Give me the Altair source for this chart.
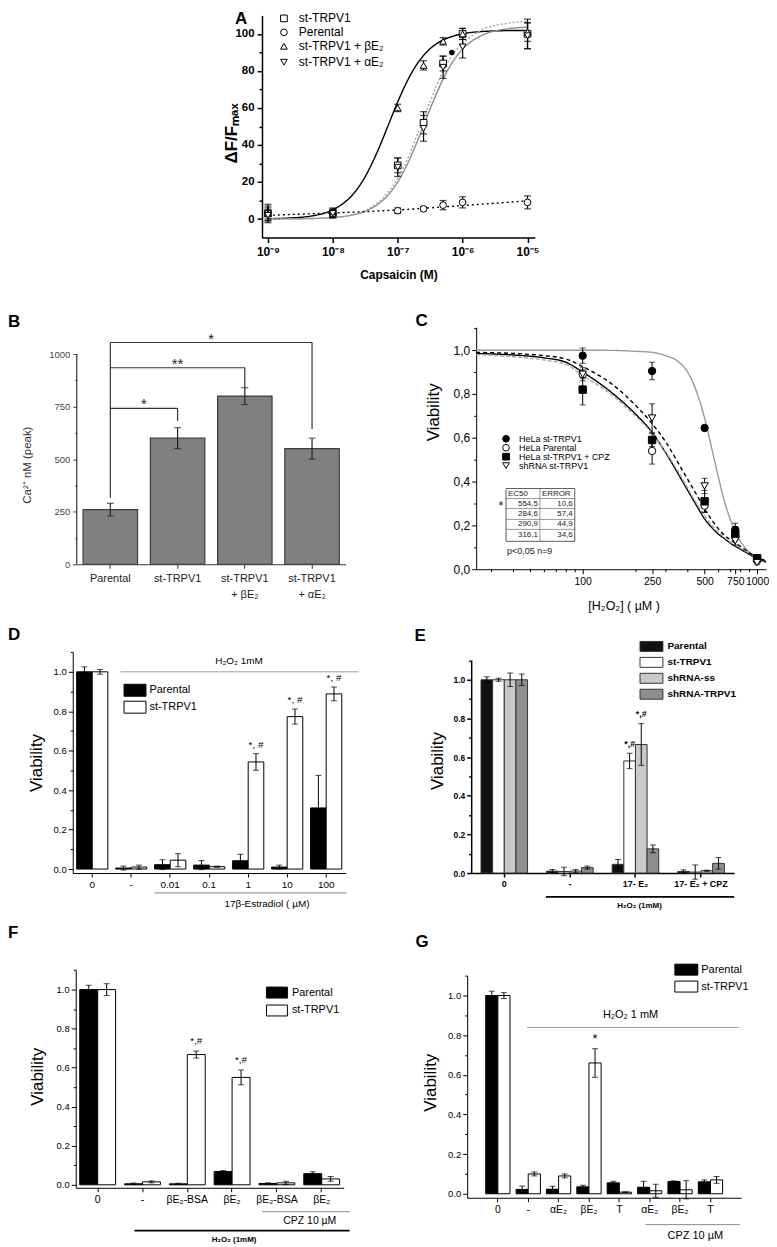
import json
import altair as alt
import pandas as pd

FONT = "Liberation Sans"
ONE = pd.DataFrame({"k": [0]})

# ======================= DATA =======================
# ---- Panel A : capsaicin dose response ----
A_conc = [1e-9, 1e-8, 1e-7, 2.5e-7, 5e-7, 1e-6, 1e-5]
A_series = ["st-TRPV1", "Perental", "st-TRPV1 + βE₂", "st-TRPV1 + αE₂"]
A_st = [3, 3, 29, 52, 84, 100, 100]
A_st_err = [4, 2.5, 4, 6, 4, 3, 8]
A_par = [3, 3, 4.5, 5.5, 7.5, 9, 9]
A_par_err = [5, 2, 1.5, 1, 2.5, 3, 3.5]
A_beta = [3, 4, 60, 83, 96, 100, 101]
A_beta_err = [3, 2, 2, 2.5, 2, 3, 5]
A_alpha = [2, 3, 28, 49, 82, 93, 99]
A_alpha_err = [3, 2, 5, 7, 6, 6, 7]
A_extra_conc = [6.8e-7]
A_extra_val = [90]
A_curve_conc = [1e-9, 2e-9, 5e-9, 1e-8, 2e-8, 3e-8, 5e-8, 7e-8, 1e-7, 1.5e-7,
                2e-7, 3e-7, 5e-7, 7e-7, 1e-6, 2e-6, 5e-6, 1e-5]
A_curve_beta = [0.2, 0.5, 1.8, 5.0, 13.0, 21.6, 37.4, 49.9, 63.3, 76.5,
                83.9, 91.3, 96.7, 98.7, 100.1, 101.3, 101.8, 101.9]
A_curve_st = [0.0, 0.1, 0.3, 0.8, 2.2, 3.9, 8.1, 12.7, 20.0, 31.7,
              41.9, 57.6, 75.6, 84.8, 91.8, 99.3, 102.8, 103.6]
A_curve_alpha = [0.0, 0.1, 0.3, 0.8, 2.3, 4.2, 9.0, 14.2, 22.0, 34.5,
                 45.5, 61.5, 80.0, 88.8, 94.8, 102.3, 105.8, 106.8]
A_par_line_conc = [1e-9, 1e-8, 1e-7, 1e-6, 1e-5]
A_par_line = [2.0, 3.3, 4.9, 7.3, 9.8]
A_xticks = [1e-9, 1e-8, 1e-7, 1e-6, 1e-5]
A_xtick_labels = ["10⁻⁹", "10⁻⁸", "10⁻⁷", "10⁻⁶", "10⁻⁵"]
A_shapes = ["square", "circle", "triangle-up", "triangle-down"]

# ---- Panel B : Ca2+ peak ----
B_cats = ["Parental", "st-TRPV1", "st-TRPV1 + βE₂", "st-TRPV1 + αE₂"]
B_vals = [260, 600, 800, 550]
B_err = [30, 50, 40, 50]
B_sig_target = [1, 2, 3]
B_sig_height = [742, 935, 1055]
B_sig_leg = [682, 840, 643]
B_sig_label = ["*", "**", "*"]
B_left_leg = [316, 1055]

# ---- Panel C : H2O2 viability curves ----
C_series = ["HeLa st-TRPV1", "HeLa Parental", "HeLa st-TRPV1 + CPZ", "shRNA st-TRPV1"]
C_shapes = ["circle", "circle", "square", "triangle-down"]
C_fills = ["black", "white", "black", "white"]
C_conc = [100, 250, 500, 750, 1000]
C_vals = [
    [0.975, 0.905, 0.645, 0.18, 0.05],
    [0.89, 0.54, 0.29, 0.15, 0.04],
    [0.82, 0.59, 0.31, 0.16, 0.05],
    [0.89, 0.69, 0.38, 0.13, 0.03],
]
C_errs = [
    [0.035, 0.04, 0.0, 0.03, 0.01],
    [0.02, 0.06, 0.03, 0.02, 0.01],
    [0.07, 0.03, 0.05, 0.02, 0.01],
    [0.03, 0.065, 0.035, 0.02, 0.01],
]
C_curve_conc = [24.5, 40, 60, 80, 100, 150, 200, 250, 300, 350, 400, 450, 500,
                550, 600, 650, 700, 750, 850, 1000, 1125]
C_curves = [
    [1.0, 1.0, 1.0, 1.0, 1.0, 0.999, 0.995, 0.99, 0.975, 0.95, 0.90, 0.81, 0.69,
     0.55, 0.42, 0.31, 0.23, 0.17, 0.10, 0.05, 0.03],
    [0.985, 0.978, 0.965, 0.945, 0.90, 0.80, 0.71, 0.625, 0.53, 0.44, 0.36, 0.29, 0.23,
     0.19, 0.16, 0.14, 0.12, 0.105, 0.08, 0.05, 0.035],
    [0.98, 0.97, 0.955, 0.935, 0.885, 0.79, 0.70, 0.62, 0.535, 0.45, 0.37, 0.30, 0.245,
     0.20, 0.17, 0.145, 0.125, 0.11, 0.085, 0.055, 0.038],
    [0.99, 0.985, 0.975, 0.96, 0.925, 0.84, 0.75, 0.665, 0.58, 0.49, 0.41, 0.34, 0.275,
     0.225, 0.185, 0.155, 0.135, 0.12, 0.09, 0.055, 0.038],
]
C_xticks = [30, 40, 50, 60, 70, 80, 90, 100, 200, 250, 300, 400, 500, 600, 700,
            750, 800, 900, 1000]
C_xlabels = [100, 250, 500, 750, 1000]
C_tab_ec50 = ["554,5", "284,6", "290,9", "316,1"]
C_tab_error = ["10,6", "57,4", "44,9", "34,6"]

# ---- Panel D : 17beta-estradiol dose ----
D_labels = ["0", "-", "0.01", "0.1", "1", "10", "100"]
D_series = ["Parental", "st-TRPV1"]
D_par = [1.0, 0.005, 0.022, 0.02, 0.042, 0.01, 0.31]
D_par_err = [0.025, 0.01, 0.025, 0.023, 0.033, 0.01, 0.165]
D_st = [1.0, 0.01, 0.045, 0.012, 0.543, 0.773, 0.888]
D_st_err = [0.012, 0.01, 0.033, 0.003, 0.042, 0.038, 0.035]
D_annot = [(4, "st-TRPV1", "*, #"), (5, "st-TRPV1", "*, #"), (6, "st-TRPV1", "*, #")]

# ---- Panel E : shRNA ----
E_labels = ["0", "-", "17- E₂", "17- E₂ + CPZ"]
E_series = ["Parental", "st-TRPV1", "shRNA-ss", "shRNA-TRPV1"]
E_par = [1.0, 0.01, 0.045, 0.008]
E_par_err = [0.015, 0.008, 0.025, 0.008]
E_st = [1.0, 0.008, 0.58, 0.005]
E_st_err = [0.008, 0.022, 0.04, 0.037]
E_ss = [1.0, 0.01, 0.665, 0.012]
E_ss_err = [0.035, 0.008, 0.108, 0.003]
E_sh = [1.0, 0.028, 0.125, 0.05]
E_sh_err = [0.03, 0.008, 0.02, 0.03]
E_annot = [(2, "st-TRPV1", "*,#"), (2, "shRNA-ss", "*,#")]

# ---- Panel F : BSA-conjugated estradiol ----
F_labels = ["0", "-", "βE₂-BSA", "βE₂", "βE₂-BSA", "βE₂"]
F_par = [1.0, 0.005, 0.005, 0.068, 0.007, 0.057]
F_par_err = [0.022, 0.004, 0.003, 0.005, 0.003, 0.01]
F_st = [1.0, 0.015, 0.667, 0.55, 0.01, 0.03]
F_st_err = [0.03, 0.005, 0.018, 0.038, 0.008, 0.012]
F_annot = [(2, "st-TRPV1", "*,#"), (3, "st-TRPV1", "*,#")]

# ---- Panel G : steroids ----
G_labels = ["0", "-", "αE₂", "βE₂", "T", "αE₂", "βE₂", "T"]
G_par = [1.0, 0.022, 0.023, 0.035, 0.055, 0.033, 0.062, 0.06]
G_par_err = [0.022, 0.017, 0.015, 0.008, 0.008, 0.03, 0.003, 0.01]
G_st = [1.0, 0.1, 0.09, 0.66, 0.008, 0.015, 0.02, 0.07]
G_st_err = [0.015, 0.01, 0.01, 0.072, 0.002, 0.033, 0.046, 0.017]
G_annot = [(3, "st-TRPV1", "*")]


# ======================= HELPERS =======================
def note(text, x, y, size=10, weight="normal", align="center", color="black", baseline="middle"):
    return alt.Chart(ONE).mark_text(
        text=text, font=FONT, fontSize=size, fontWeight=weight, align=align,
        baseline=baseline, color=color
    ).encode(x=alt.value(x), y=alt.value(y))


def hline(x1, x2, y, color="black", width=1.0):
    return alt.Chart(ONE).mark_rule(color=color, strokeWidth=width).encode(
        x=alt.value(x1), x2=alt.value(x2), y=alt.value(y))


def vline(x, y1, y2, color="black", width=1.0):
    return alt.Chart(ONE).mark_rule(color=color, strokeWidth=width).encode(
        x=alt.value(x), y=alt.value(y1), y2=alt.value(y2))


def letter(ch, x, y):
    return note(ch, x, y, size=17, weight="bold", align="left")


def manual_legend(names, shapes, fills, x_sym, x_lab, ys, size, fs):
    out = []
    for n, sh, f, yy in zip(names, shapes, fills, ys):
        out.append(alt.Chart(ONE).mark_point(shape=sh, filled=True, fill=f, stroke="black",
                                             strokeWidth=1, size=size, opacity=1).encode(
            x=alt.value(x_sym), y=alt.value(yy)))
        out.append(note(n, x_lab, yy, size=fs, align="left"))
    return out


def frac_axis(title, tx, ty, label_fs=9.5, bold=False, comma=False, dw=1.0, tfs=17):
    vals = [round(0.1 * i, 1) for i in range(12)]
    major = "round(datum.value * 10) % 2 == 0"
    fmt = "replace(format(datum.value, '.1f'), '.', ',')" if comma else "format(datum.value, '.1f')"
    return alt.Axis(
        values=vals, labelExpr=f"{major} ? {fmt} : ''",
        tickSize={"condition": {"test": f"!({major})", "value": 2.5}, "value": 4.5},
        labelFontSize=label_fs, labelFontWeight="bold" if bold else "normal",
        labelPadding=2, labelOverlap=False, domainWidth=dw, tickWidth=dw,
        title=title, titleFontSize=tfs, titleX=tx, titleY=ty,
        titleAlign="center", titleBaseline="middle")


def rect_legend(x, y, w, h, gap, fs, bold=False, stroke="black", row_pad=0):
    # symbol laid out as an h x h square, drawn as a w x h rectangle
    path = f"M-1,-1H{2 * w / h - 1:.3f}V1H-1Z"
    return alt.Legend(title=None, orient="none", legendX=x, legendY=y, symbolType=path,
                      symbolSize=h * h, symbolStrokeColor=stroke, symbolStrokeWidth=1,
                      labelFontSize=fs, labelFontWeight="bold" if bold else "normal",
                      labelFont=FONT, labelOffset=w - h + gap, rowPadding=row_pad, padding=0)


def bar_panel(labels, series, means, errs, fills, stroke, W, H, ydom, pi, po, yaxis,
              xlab_fs, xlab_bold, legend, annots, annot_fs, annot_bold, annot_dy,
              extras, cap=6, err_w=1.0, dw=1.0):
    keys = [str(i) for i in range(len(labels))]
    rows = []
    for s, ml, el in zip(series, means, errs):
        for k, m, e in zip(keys, ml, el):
            rows.append({"key": k, "series": s, "mean": m, "lo": m - e, "hi": m + e})
    df = pd.DataFrame(rows)
    yscale = alt.Scale(domain=ydom, nice=False, zero=False)
    label_expr = json.dumps(labels, ensure_ascii=False) + "[toNumber(datum.value)]"
    xaxis = alt.Axis(title=None, labelExpr=label_expr, labelAngle=0, labelFontSize=xlab_fs,
                     labelFontWeight="bold" if xlab_bold else "normal", tickSize=4,
                     labelPadding=3, labelOverlap=False, domainWidth=dw, tickWidth=dw)
    x = alt.X("key:N", sort=keys, scale=alt.Scale(paddingInner=pi, paddingOuter=po), axis=xaxis)
    xo = alt.XOffset("series:N", sort=series,
                     scale=alt.Scale(domain=series, paddingInner=0, paddingOuter=0))
    bars = alt.Chart(df).mark_bar(stroke=stroke, strokeWidth=1).encode(
        x=x, xOffset=xo, y=alt.Y("mean:Q", scale=yscale, axis=yaxis), y2=alt.datum(0),
        fill=alt.Fill("series:N", scale=alt.Scale(domain=series, range=fills), legend=legend))
    err = alt.Chart(df).mark_rule(color="black", strokeWidth=err_w).encode(
        x=x, xOffset=xo, y=alt.Y("lo:Q", scale=yscale, axis=yaxis), y2="hi:Q")
    cap_lo = alt.Chart(df).mark_tick(color="black", size=cap, thickness=err_w,
                                     orient="horizontal").encode(
        x=x, xOffset=xo, y=alt.Y("lo:Q", scale=yscale, axis=yaxis))
    cap_hi = alt.Chart(df).mark_tick(color="black", size=cap, thickness=err_w,
                                     orient="horizontal").encode(
        x=x, xOffset=xo, y=alt.Y("hi:Q", scale=yscale, axis=yaxis))
    layers = [bars, err, cap_lo, cap_hi]
    if annots:
        arows = []
        for ki, s, t in annots:
            si = series.index(s)
            arows.append({"key": str(ki), "series": s,
                          "ty": means[si][ki] + errs[si][ki] + annot_dy, "t": t})
        adf = pd.DataFrame(arows)
        layers.append(alt.Chart(adf).mark_text(
            font=FONT, fontSize=annot_fs, fontWeight="bold" if annot_bold else "normal",
            baseline="middle").encode(
            x=x, xOffset=xo, y=alt.Y("ty:Q", scale=yscale, axis=yaxis), text="t:N"))
    layers += extras
    return alt.layer(*layers).properties(width=W, height=H)


# ======================= PANEL A =======================
A_W, A_H = 274, 223
a_x = alt.Scale(type="log", domain=[8.1e-10, 1.3e-5], nice=False)
a_y = alt.Scale(domain=[-10, 110], nice=False, zero=False)
a_lab = "".join(f"datum.value < {t * 3:g} ? '{l}' : "
                for t, l in zip(A_xticks[:-1], A_xtick_labels[:-1])) + f"'{A_xtick_labels[-1]}'"
a_xaxis = alt.Axis(values=A_xticks, labelExpr=a_lab, labelFontWeight="bold", labelFontSize=12,
                   labelPadding=4, labelOverlap=False, labelFlush=False, tickSize=5,
                   tickWidth=1.5, domainWidth=1.5, title="Capsaicin (M)", titleFontSize=12,
                   titleFontWeight="bold", titleX=A_W / 2, titleY=37, titleAlign="center",
                   titleBaseline="middle")
a_yaxis = alt.Axis(values=list(range(0, 101, 10)),
                   labelExpr="datum.value % 20 == 0 ? datum.label : ''",
                   tickSize={"condition": {"test": "datum.value % 20 != 0", "value": 3}, "value": 5},
                   labelFontWeight="bold", labelFontSize=11.5, labelPadding=3, labelOverlap=False,
                   tickWidth=1.5, domainWidth=1.5, title="ΔF/Fₘₐₓ", titleFontSize=17,
                   titleFontWeight="bold", titleX=-31, titleY=118, titleAlign="center",
                   titleBaseline="middle")

A_curve_names = ["beta", "st", "alpha", "par"]
a_line_rows = []
for name, xs, ys in [("beta", A_curve_conc, A_curve_beta), ("st", A_curve_conc, A_curve_st),
                     ("alpha", A_curve_conc, A_curve_alpha), ("par", A_par_line_conc, A_par_line)]:
    for xv, yv in zip(xs, ys):
        a_line_rows.append({"conc": xv, "val": yv, "curve": name})
a_line_df = pd.DataFrame(a_line_rows)

a_pt_rows = []
for s, vals, errs in zip(A_series, [A_st, A_par, A_beta, A_alpha],
                         [A_st_err, A_par_err, A_beta_err, A_alpha_err]):
    for c, v, e in zip(A_conc, vals, errs):
        a_pt_rows.append({"conc": c, "val": v, "lo": v - e, "hi": v + e, "series": s})
a_pt_df = pd.DataFrame(a_pt_rows)

ax = alt.X("conc:Q", scale=a_x, axis=a_xaxis)
a_lines = alt.Chart(a_line_df).mark_line(strokeWidth=1.4, interpolate="monotone").encode(
    x=ax, y=alt.Y("val:Q", scale=a_y, axis=a_yaxis),
    color=alt.Color("curve:N", scale=alt.Scale(domain=A_curve_names,
                    range=["black", "#8c8c8c", "#a6a6a6", "black"]), legend=None),
    strokeDash=alt.StrokeDash("curve:N", scale=alt.Scale(domain=A_curve_names,
                              range=[[1, 0], [1, 0], [2, 2], [2, 3]]), legend=None),
    detail="curve:N")
a_err = alt.Chart(a_pt_df).mark_rule(color="black", strokeWidth=1.2).encode(
    x=ax, y=alt.Y("lo:Q", scale=a_y, axis=a_yaxis), y2="hi:Q")
a_cap_lo = alt.Chart(a_pt_df).mark_tick(color="black", size=7, thickness=1.2,
                                        orient="horizontal").encode(
    x=ax, y=alt.Y("lo:Q", scale=a_y, axis=a_yaxis))
a_cap_hi = alt.Chart(a_pt_df).mark_tick(color="black", size=7, thickness=1.2,
                                        orient="horizontal").encode(
    x=ax, y=alt.Y("hi:Q", scale=a_y, axis=a_yaxis))
a_pts = alt.Chart(a_pt_df).mark_point(filled=True, fill="white", stroke="black", strokeWidth=1,
                                      size=45, opacity=1).encode(
    x=ax, y=alt.Y("val:Q", scale=a_y, axis=a_yaxis),
    shape=alt.Shape("series:N", scale=alt.Scale(domain=A_series, range=A_shapes), legend=None))
a_extra = alt.Chart(pd.DataFrame({"conc": A_extra_conc, "val": A_extra_val})).mark_circle(
    color="black", size=30, opacity=1).encode(x=ax, y=alt.Y("val:Q", scale=a_y, axis=a_yaxis))
a_leg = manual_legend(A_series, A_shapes, ["white"] * 4, 22, 37, [3, 17, 31, 47], 45, 12)
panel_A = alt.layer(a_lines, a_err, a_cap_lo, a_cap_hi, a_pts, a_extra, *a_leg,
                    letter("A", -27, 4)).properties(width=A_W, height=A_H)

# ======================= PANEL B =======================
B_W, B_H = 270, 238
b_y = alt.Scale(domain=[0, 1128], nice=False, zero=False)
b_yaxis = alt.Axis(values=list(range(0, 1001, 125)), format="d",
                   labelExpr="datum.value % 250 == 0 ? datum.label : ''",
                   tickSize={"condition": {"test": "datum.value % 250 != 0", "value": 2}, "value": 4},
                   domain=False, labelFontSize=9.5, labelColor="#444", tickColor="#444",
                   labelPadding=3, labelOverlap=False, title="Ca²⁺ nM (peak)", titleFontSize=11.5,
                   titleColor="#333", titleX=-49, titleY=138, titleAlign="center",
                   titleBaseline="middle")
b_split = ("indexof(datum.label, ' + ') > 0 ? [substring(datum.label, 0, indexof(datum.label, ' + ')), "
           "substring(datum.label, indexof(datum.label, ' + ') + 1)] : datum.label")
b_xaxis = alt.Axis(title=None, labelAngle=0, labelExpr=b_split, labelFontSize=11, labelColor="#222",
                   labelLineHeight=16, labelPadding=4, tickSize=4, domainColor="#333",
                   tickColor="#333", labelOverlap=False)
b_xscale = alt.Scale(paddingInner=0.19, paddingOuter=0.095)
b_df = pd.DataFrame({"cat": B_cats, "val": B_vals,
                     "lo": [v - e for v, e in zip(B_vals, B_err)],
                     "hi": [v + e for v, e in zip(B_vals, B_err)]})
b_bars = alt.Chart(b_df).mark_bar(fill="#808080", stroke="#3c3c3c", strokeWidth=1.2).encode(
    x=alt.X("cat:N", sort=B_cats, scale=b_xscale, axis=b_xaxis),
    y=alt.Y("val:Q", scale=b_y, axis=b_yaxis))
bx_na = alt.X("cat:N", sort=B_cats, scale=b_xscale, axis=None)
b_err = alt.Chart(b_df).mark_rule(color="#222", strokeWidth=1.2).encode(
    x=bx_na, y=alt.Y("lo:Q", scale=b_y, axis=b_yaxis), y2="hi:Q")
b_cap_lo = alt.Chart(b_df).mark_tick(color="#222", size=7, thickness=1.2, orient="horizontal").encode(
    x=bx_na, y=alt.Y("lo:Q", scale=b_y, axis=b_yaxis))
b_cap_hi = alt.Chart(b_df).mark_tick(color="#222", size=7, thickness=1.2, orient="horizontal").encode(
    x=bx_na, y=alt.Y("hi:Q", scale=b_y, axis=b_yaxis))
b_axisline = alt.Chart(ONE).mark_rule(color="#333", strokeWidth=1.2).encode(
    x=alt.value(0), y=alt.YDatum(0, scale=b_y, axis=b_yaxis, type="quantitative"),
    y2=alt.Y2Datum(1000))
seg = [{"x1": 0.5, "x2": 0.5, "y1": B_left_leg[0], "y2": B_left_leg[1]}]
stars = []
for t, h, leg, lab in zip(B_sig_target, B_sig_height, B_sig_leg, B_sig_label):
    seg.append({"x1": 0.5, "x2": t + 0.5, "y1": h, "y2": h})
    seg.append({"x1": t + 0.5, "x2": t + 0.5, "y1": leg, "y2": h})
    stars.append({"sx": (0.5 + t + 0.5) / 2, "sy": h - 5, "lab": lab})
bq = alt.Scale(domain=[0, 4], nice=False, zero=False)
b_brk = alt.Chart(pd.DataFrame(seg)).mark_rule(color="#333", strokeWidth=1.2).encode(
    x=alt.X("x1:Q", scale=bq, axis=None), x2="x2:Q",
    y=alt.Y("y1:Q", scale=b_y, axis=b_yaxis), y2="y2:Q")
b_stars = alt.Chart(pd.DataFrame(stars)).mark_text(font=FONT, fontSize=15, baseline="alphabetic",
                                                   color="#222").encode(
    x=alt.X("sx:Q", scale=bq, axis=None), y=alt.Y("sy:Q", scale=b_y, axis=b_yaxis), text="lab:N")
panel_B = alt.layer(b_bars, b_err, b_cap_lo, b_cap_hi, b_axisline, b_brk, b_stars,
                    letter("B", -69, -5)).resolve_scale(x="independent").properties(
    width=B_W, height=B_H)

# ======================= PANEL C =======================
C_W, C_H = 291, 243
c_x = alt.Scale(type="log", domain=[24.5, 1125], nice=False)
c_y = alt.Scale(domain=[0, 1.105], nice=False, zero=False)
c_test = "indexof(" + json.dumps(C_xlabels) + ", datum.value) >= 0"
c_xaxis = alt.Axis(values=C_xticks, format="d", labelExpr=f"{c_test} ? datum.label : ''",
                   tickSize={"condition": {"test": f"!({c_test})", "value": 2.5}, "value": 4.5},
                   labelFontSize=10.5, labelPadding=3, labelOverlap=False, labelFlush=False,
                   title="[H₂O₂] ( µM )", titleFontSize=12.5, titleX=148, titleY=36,
                   titleAlign="center", titleBaseline="middle")
c_yaxis = frac_axis("Viability", -43, 85, label_fs=12, comma=True)
cx = alt.X("conc:Q", scale=c_x, axis=c_xaxis)
c_line_rows = []
for s, ys in zip(C_series, C_curves):
    for xv, yv in zip(C_curve_conc, ys):
        c_line_rows.append({"conc": xv, "val": yv, "series": s})
c_pt_rows = []
for s, vals, errs in zip(C_series, C_vals, C_errs):
    for c, v, e in zip(C_conc, vals, errs):
        c_pt_rows.append({"conc": c, "val": v, "lo": v - e, "hi": v + e, "series": s})
c_pt_df = pd.DataFrame(c_pt_rows)
c_lines = alt.Chart(pd.DataFrame(c_line_rows)).mark_line(strokeWidth=1.4,
                                                          interpolate="monotone").encode(
    x=cx, y=alt.Y("val:Q", scale=c_y, axis=c_yaxis),
    color=alt.Color("series:N", scale=alt.Scale(domain=C_series,
                    range=["#9a9a9a", "black", "#a8a8a8", "black"]), legend=None),
    strokeDash=alt.StrokeDash("series:N", scale=alt.Scale(domain=C_series,
                              range=[[1, 0], [1, 0], [4, 2], [4, 3]]), legend=None),
    detail="series:N")
c_err = alt.Chart(c_pt_df).mark_rule(color="black", strokeWidth=1).encode(
    x=cx, y=alt.Y("lo:Q", scale=c_y, axis=c_yaxis), y2="hi:Q")
c_cap_lo = alt.Chart(c_pt_df).mark_tick(color="black", size=6, thickness=1,
                                        orient="horizontal").encode(
    x=cx, y=alt.Y("lo:Q", scale=c_y, axis=c_yaxis))
c_cap_hi = alt.Chart(c_pt_df).mark_tick(color="black", size=6, thickness=1,
                                        orient="horizontal").encode(
    x=cx, y=alt.Y("hi:Q", scale=c_y, axis=c_yaxis))
c_pts = alt.Chart(c_pt_df).mark_point(filled=True, stroke="black", strokeWidth=1, size=55,
                                      opacity=1).encode(
    x=cx, y=alt.Y("val:Q", scale=c_y, axis=c_yaxis),
    shape=alt.Shape("series:N", scale=alt.Scale(domain=C_series, range=C_shapes), legend=None),
    fill=alt.Fill("series:N", scale=alt.Scale(domain=C_series, range=C_fills), legend=None))
c_leg = manual_legend(C_series, C_shapes, C_fills, 30, 43, [112, 121, 130, 139], 45, 9)
tbl = [alt.Chart(ONE).mark_rect(fill="white", stroke="#333", strokeWidth=0.8).encode(
    x=alt.value(30), x2=alt.value(99), y=alt.value(162), y2=alt.value(215))]
for yy in [172, 182, 193, 203]:
    tbl.append(hline(30, 99, yy, color="#555", width=0.6))
tbl.append(vline(64, 162, 215, color="#555", width=0.6))
tbl.append(note("EC50", 32, 167.5, size=8, align="left", color="#222"))
tbl.append(note("ERROR", 66, 167.5, size=8, align="left", color="#222"))
for i, (e5, er) in enumerate(zip(C_tab_ec50, C_tab_error)):
    yy = 177.5 + i * 10.3
    tbl.append(note(e5, 62, yy, size=8, align="right", color="#222"))
    tbl.append(note(er, 97, yy, size=8, align="right", color="#222"))
tbl.append(note("*", 25, 180, size=13, color="#222"))
tbl.append(note("p<0,05 n=9", 31, 225, size=9, align="left", color="#222"))
panel_C = alt.layer(c_lines, c_err, c_cap_lo, c_cap_hi, c_pts, *c_leg, *tbl,
                    letter("C", -61, -6)).properties(width=C_W, height=C_H)

# ======================= PANEL D =======================
D_W, D_H = 274, 222
panel_D = bar_panel(
    D_labels, D_series, [D_par, D_st], [D_par_err, D_st_err], ["black", "white"], "black",
    D_W, D_H, [-0.0202, 1.101], 0.2, 0.1, frac_axis("Viability", -36, 111), 10, False,
    rect_legend(51, 32, 22, 12, 3, 11), D_annot, 10, False, 0.045,
    [hline(48, 287, 20, color="#9a9a9a"), note("H₂O₂ 1mM", 167, 9, size=10),
     hline(82, 275, 242, color="#888"), note("17β-Estradiol ( µM)", 195, 253, size=10),
     letter("D", -65, -17)])

# ======================= PANEL E =======================
E_W, E_H = 264, 214
panel_E = bar_panel(
    E_labels, E_series, [E_par, E_st, E_ss, E_sh], [E_par_err, E_st_err, E_ss_err, E_sh_err],
    ["#111111", "white", "#c9c9c9", "#8e8e8e"], "#333", E_W, E_H, [0, 1.103], 0.29, 0.15,
    frac_axis("Viability", -34, 101, label_fs=8.5, bold=True, dw=1.5), 9, True,
    rect_legend(169, -19, 23, 10, 4, 10, bold=True, stroke="#333", row_pad=1),
    E_annot, 9, True, 0.05,
    [hline(75, 264, 238, width=1.8), note("H₂O₂ (1mM)", 169, 247, size=8, weight="bold"),
     letter("E", -57, -24)], dw=1.5)

# ======================= PANEL F =======================
F_W, F_H = 269, 219
panel_F = bar_panel(
    F_labels, D_series, [F_par, F_st], [F_par_err, F_st_err], ["black", "white"], "black",
    F_W, F_H, [-0.0153, 1.102], 0.2, 0.09, frac_axis("Viability", -38, 107), 10.5, False,
    rect_legend(191, 17, 21, 11, 4, 11, row_pad=2), F_annot, 10, False, 0.05,
    [hline(187, 275, 243, color="#888"), note("CPZ 10 µM", 235, 252, size=10.5),
     hline(59, 275, 262, width=1.8), note("H₂O₂ (1mM)", 159, 271, size=8, weight="bold"),
     letter("F", -68, -37)])

# ======================= PANEL G =======================
G_W, G_H = 275, 223
panel_G = bar_panel(
    G_labels, D_series, [G_par, G_st], [G_par_err, G_st_err], ["black", "white"], "black",
    G_W, G_H, [-0.0201, 1.1005], 0.2, 0.61, frac_axis("Viability", -37, 107), 10.5, False,
    rect_legend(208, -12, 23, 11, 3, 11, row_pad=1), G_annot, 13, False, 0.05,
    [hline(60, 273, 52, color="#9a9a9a"), note("H₂O₂  1 mM", 164, 40, size=11),
     hline(179, 274, 250, color="#888"), note("CPZ 10 µM", 229, 261, size=11),
     letter("G", -52, -34)])

# ======================= LAYOUT =======================
RES = dict(x="independent", y="independent", color="independent", fill="independent",
           shape="independent", strokeDash="independent", xOffset="independent")


def indep(c):
    return c.resolve_scale(**RES).resolve_legend(
        color="independent", fill="independent", shape="independent", strokeDash="independent")


def spacer(w, h):
    return alt.Chart(ONE).mark_point(opacity=0).encode(
        x=alt.value(0), y=alt.value(0)).properties(width=w, height=h)


def row(*items):
    return indep(alt.hconcat(*items, spacing=0, bounds="flush"))


# rows are nested groups placed by the spacers between them
chart = indep(alt.vconcat(
    row(spacer(190, 1), panel_A),
    spacer(1, 313),
    row(spacer(4, 1), panel_B, spacer(131, 1), panel_C),
    spacer(1, 326),
    row(panel_D, spacer(1, 1)),
    spacer(1, 8),
    row(spacer(400, 1), panel_E),
    spacer(1, 311),
    row(spacer(3, 1), panel_F),
    spacer(1, 6),
    row(spacer(396, 1), panel_G),
    spacing=0, bounds="flush")).properties(padding=0)
chart = chart.configure_view(strokeWidth=0).configure_axis(
    labelFont=FONT, titleFont=FONT, domainColor="black", tickColor="black", labelColor="black",
    titleColor="black", grid=False, titleFontWeight="normal").configure_legend(
    labelFont=FONT).configure_text(font=FONT)

chart.save("out.html", embed_options={"renderer": "svg", "actions": False})
